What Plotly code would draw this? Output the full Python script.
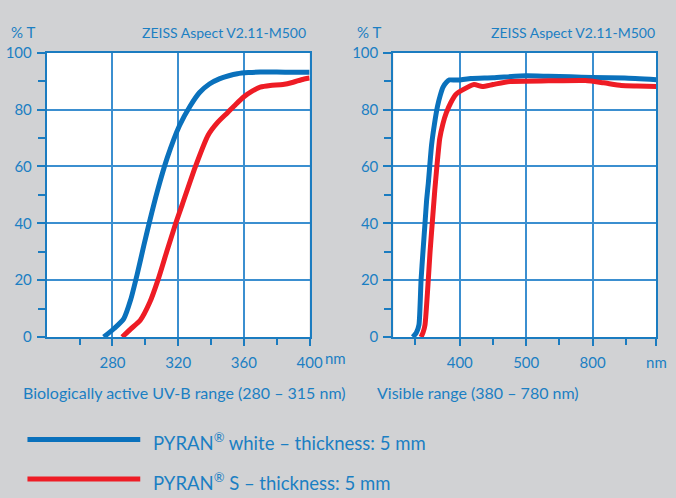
import numpy as np
import plotly.graph_objects as go

# ---------------- data ----------------
# UV-B panel (wavelength nm, % transmission)
uv_white_nm = [274.7, 281, 286.9, 291, 295, 299, 302.3, 307.4, 313.3, 320.8, 327.1, 333, 339, 345, 350.8, 356, 362.7, 370, 380, 390, 400]
uv_white_t  = [0, 3, 6.5, 13, 22, 32, 40, 51.5, 63, 74.4, 81.1, 86, 89, 90.8, 91.9, 92.6, 93, 93.2, 93.2, 93.1, 93.1]
uv_s_nm = [285.9, 291, 296.8, 302.7, 307.7, 313, 318.5, 322.4, 330.3, 338.2, 344, 350, 355, 360, 365, 369.9, 376, 383.7, 390, 395, 400]
uv_s_t  = [0, 2.8, 5.8, 12.2, 20.1, 30, 40, 46.5, 59.7, 71, 75.5, 78.9, 81.8, 84.5, 86.5, 87.9, 88.5, 88.8, 89.6, 90.5, 91.1]

# Visible panel (wavelength nm, % transmission)
vis_white_nm = [294, 302, 308, 312.7, 317, 321.6, 325.3, 329, 336.4, 343, 349.7, 356, 362.3, 370, 376.9, 388, 400, 416.7, 450, 500, 600, 700, 800, 944, 1088]
vis_white_t  = [0, 1.5, 4.3, 20.1, 30, 40, 48.3, 54, 67.5, 75, 81.1, 85, 87.9, 89.6, 90.4, 90.4, 90.4, 90.9, 91.2, 91.9, 91.7, 91.5, 91.3, 91.1, 90.5]
vis_s_nm = [312.7, 317, 321.6, 329, 333, 337.9, 343.7, 349, 354.8, 362, 369.6, 380, 391.8, 405, 421.6, 433.9, 450, 475.8, 600, 767, 850, 929, 1000, 1088]
vis_s_t  = [0, 1.5, 4.3, 20.1, 30, 40, 51.7, 61, 69.8, 75, 78.8, 82.5, 85.4, 87, 88.8, 88.1, 88.8, 89.9, 90.1, 90.2, 89.4, 88.5, 88.3, 88.1]

# axis definitions
uv_range = [240, 400]
uv_ticks = [280, 320, 360, 400]
uv_ticktext = ["280", "320", "360", "400"]
uv_minor = [260, 300, 340, 380]

# visible axis is piecewise: equal spacing between these breakpoints
vis_breaks_nm = [250, 400, 500, 800, 1100]
vis_range_nm = [250, 1088]
vis_ticks = [400, 500, 800, 1088]
vis_ticktext = ["400", "500", "800", "nm"]
vis_minor = [300, 450, 650, 950]

y_ticks = [0, 20, 40, 60, 80, 100]
y_minor = [10, 30, 50, 70, 90]

names = ["PYRAN<sup>®</sup> white – thickness: 5 mm", "PYRAN<sup>®</sup> S – thickness: 5 mm"]

# ---------------- style ----------------
BLUE = "#0a71bc"
RED = "#ee1c25"
TXT = "#1b7fc3"
AXC = "#1b7cc0"
GRIDC = "#3b8fd0"
BG = "#d1d2d4"
FONT = "Lato"
W, H = 676, 498


def vis_pos(nm):
    return np.interp(nm, vis_breaks_nm, np.arange(len(vis_breaks_nm)))


def px(x):
    return x / W


def py(y):
    return 1 - y / H


fig = go.Figure()
fig.add_trace(go.Scatter(x=uv_white_nm, y=uv_white_t, mode="lines", name=names[0],
                         line=dict(color=BLUE, width=5, shape="spline", smoothing=0.6),
                         xaxis="x", yaxis="y", showlegend=False))
fig.add_trace(go.Scatter(x=uv_s_nm, y=uv_s_t, mode="lines", name=names[1],
                         line=dict(color=RED, width=5, shape="spline", smoothing=0.6),
                         xaxis="x", yaxis="y", showlegend=False))
fig.add_trace(go.Scatter(x=vis_pos(vis_white_nm), y=vis_white_t, mode="lines", name=names[0],
                         line=dict(color=BLUE, width=5, shape="spline", smoothing=0.5),
                         xaxis="x2", yaxis="y2", showlegend=False))
fig.add_trace(go.Scatter(x=vis_pos(vis_s_nm), y=vis_s_t, mode="lines", name=names[1],
                         line=dict(color=RED, width=5, shape="spline", smoothing=0.5),
                         xaxis="x2", yaxis="y2", showlegend=False))

common_x = dict(showline=True, linecolor=AXC, linewidth=2, mirror=True,
                ticks="outside", ticklen=7, tickwidth=1.5, tickcolor=AXC,
                showgrid=True, gridcolor=GRIDC, gridwidth=1.5, zeroline=False,
                tickfont=dict(family=FONT, size=15, color=TXT), tickmode="array",
                ticklabelstandoff=4)
common_y = dict(showline=True, linecolor=AXC, linewidth=2, mirror=True,
                ticks="outside", ticklen=8, tickwidth=1.5, tickcolor=AXC,
                showgrid=True, gridcolor=GRIDC, gridwidth=1.5, zeroline=False,
                tickfont=dict(family=FONT, size=15, color=TXT), tickmode="array",
                tickvals=y_ticks, ticktext=[str(v) for v in y_ticks], range=[0, 100],
                minor=dict(tickmode="array", tickvals=y_minor, ticks="outside", ticklen=7,
                           tickwidth=1.5, tickcolor=AXC, showgrid=False),
                ticklabelstandoff=2)

ytop, ybot = 44.3, 339.3
fig.update_layout(
    width=W, height=H, margin=dict(l=0, r=0, t=0, b=0),
    paper_bgcolor=BG, plot_bgcolor="white",
    font=dict(family=FONT, color=TXT),
    xaxis=dict(domain=[px(47.7), px(315.7)], range=uv_range, tickvals=uv_ticks, ticktext=uv_ticktext,
               minor=dict(tickmode="array", tickvals=uv_minor, ticks="outside", ticklen=6,
                          tickwidth=1.5, tickcolor=AXC, showgrid=False),
               anchor="y", **common_x),
    yaxis=dict(domain=[py(ybot), py(ytop)], anchor="x", **common_y),
    xaxis2=dict(domain=[px(401), px(669.3)], range=list(vis_pos(vis_range_nm)),
                tickvals=list(vis_pos(vis_ticks)), ticktext=vis_ticktext,
                minor=dict(tickmode="array", tickvals=list(vis_pos(vis_minor)), ticks="outside", ticklen=6,
                           tickwidth=1.5, tickcolor=AXC, showgrid=False),
                anchor="y2", **common_x),
    yaxis2=dict(domain=[py(ybot), py(ytop)], anchor="x2", **common_y),
)


def txt(text, x, y, size, anchor="left"):
    fig.add_annotation(text=text, x=px(x), y=py(y), xref="paper", yref="paper",
                       xanchor=anchor, yanchor="middle", showarrow=False, borderpad=0,
                       font=dict(family=FONT, size=size, color=TXT))


txt("% T", 10, 23, 15)
txt("ZEISS Aspect V2.11-M500", 313, 23, 14, "right")
txt("% T", 363, 23, 15)
txt("ZEISS Aspect V2.11-M500", 669, 23, 14, "right")
txt("nm", 330, 361, 15)
txt("Biologically active UV-B range (280 – 315 nm)", 22, 397, 16)
txt("Visible range (380 – 780 nm)", 383, 397, 16)

# legend
for i, (col, yy) in enumerate([(BLUE, 445.5), (RED, 486.5)]):
    fig.add_shape(type="line", xref="paper", yref="paper", x0=px(28), x1=px(143), y0=py(yy), y1=py(yy),
                  line=dict(color=col, width=5))
    txt(names[i], 155, yy + 2.5, 18.5)

fig.write_html("out.html", config={"displayModeBar": False},
               post_script="var s=document.createElement('style');s.textContent='html,body{margin:0;padding:0;overflow:hidden}';document.head.appendChild(s);")
